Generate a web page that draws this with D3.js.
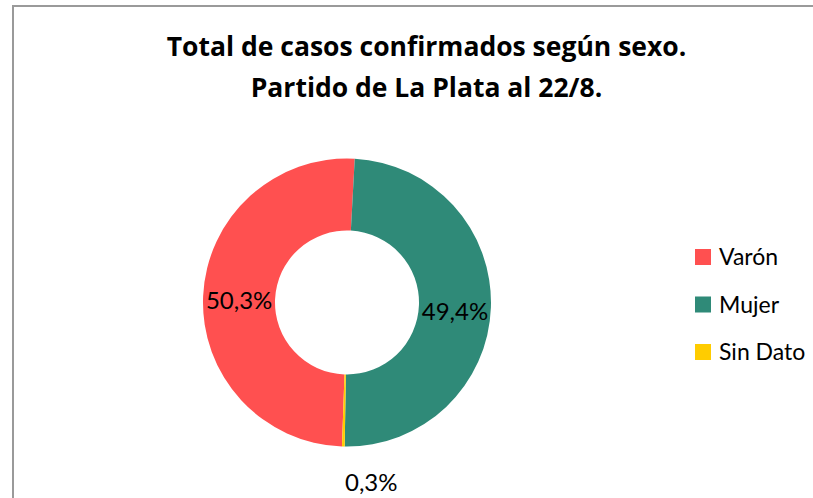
<!DOCTYPE html>
<html>
<head>
<meta charset="utf-8">
<script src="https://cdn.jsdelivr.net/npm/d3@7"></script>
<style>
  body { margin: 0; background: #fff; }
  svg { display: block; font-family: Lato, "Open Sans", sans-serif; }
</style>
</head>
<body>
<div id="chart"></div>
<script>
// Dimensions
const width = 813;
const height = 498;

// Data
const categories = ["Varón", "Mujer", "Sin Dato"];
const values = [50.3, 49.4, 0.3];
const labels = ["50,3%", "49,4%", "0,3%"];
const colors = ["#ff5050", "#2f8a78", "#ffcc00"];
const titleLines = ["Total de casos confirmados según sexo.", "Partido de La Plata al 22/8."];

const svg = d3.select("#chart")
    .append("svg")
    .attr("width", width)
    .attr("height", height);

// Chart frame (right and bottom edges fall outside the picture)
svg.append("rect")
    .attr("x", 13)
    .attr("y", 6)
    .attr("width", 820)
    .attr("height", 520)
    .attr("fill", "none")
    .attr("stroke", "#9a9a9a")
    .attr("stroke-width", 2);

// Title
svg.selectAll(".title")
    .data(titleLines)
    .enter()
    .append("text")
    .attr("class", "title")
    .attr("x", 426.5)
    .attr("y", (d, i) => 56 + i * 41)
    .attr("text-anchor", "middle")
    .attr("font-family", "'Open Sans', Lato, sans-serif")
    .attr("font-weight", "bold")
    .attr("font-size", "26.5px")
    .attr("fill", "#000")
    .text(d => d);

// Donut
const cx = 347, cy = 302.5;
const outerR = 144, innerR = 72;

const pie = d3.pie()
    .sort(null)
    .value(d => d.value)
    .startAngle(182 * Math.PI / 180)
    .endAngle(182 * Math.PI / 180 + 2 * Math.PI);

const data = categories.map((c, i) => ({ cat: c, value: values[i], label: labels[i], color: colors[i] }));
const arcs = pie(data);

const arc = d3.arc().innerRadius(innerR).outerRadius(outerR);

const g = svg.append("g").attr("transform", `translate(${cx},${cy})`);

g.selectAll("path")
    .data(arcs)
    .enter()
    .append("path")
    .attr("d", arc)
    .attr("fill", d => d.data.color);

// Data labels: inside for big slices, below for the tiny one
g.selectAll(".label")
    .data(arcs)
    .enter()
    .append("text")
    .attr("class", "label")
    .attr("transform", d => {
        const [x, y] = arc.centroid(d);
        if (d.data.value < 2) return `translate(${x + 27},${outerR + 36})`;
        return `translate(${x},${y + (x > 0 ? 5 : 3)})`;
    })
    .attr("dy", "0.35em")
    .attr("text-anchor", "middle")
    .attr("font-size", "24px")
    .attr("fill", "#000")
    .text(d => d.data.label);

// Legend
const legend = svg.append("g").attr("transform", "translate(695,257)");
const rows = legend.selectAll("g")
    .data(data)
    .enter()
    .append("g")
    .attr("transform", (d, i) => `translate(0,${i * 47.5})`);

rows.append("rect")
    .attr("x", 0)
    .attr("y", -8)
    .attr("width", 16)
    .attr("height", 16)
    .attr("fill", d => d.color);

rows.append("text")
    .attr("x", 24)
    .attr("dy", "0.36em")
    .attr("font-size", "23px")
    .attr("fill", "#000")
    .text(d => d.cat);
</script>
</body>
</html>
